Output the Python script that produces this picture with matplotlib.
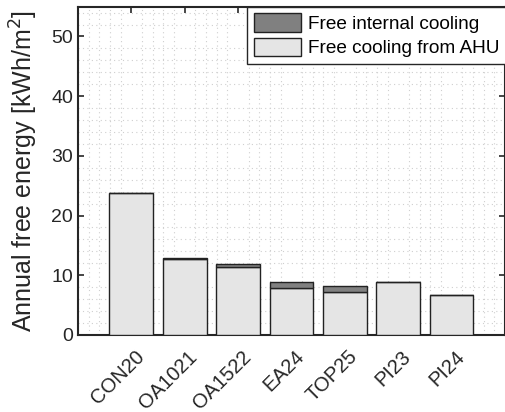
import matplotlib.pyplot as plt
import matplotlib.transforms as mtransforms
import numpy as np
from matplotlib.ticker import MultipleLocator

plt.rcParams['font.family'] = ['Liberation Sans', 'DejaVu Sans']

cases = ["CON20", "OA1021", "OA1522", "EA24", "TOP25", "PI23", "PI24"]
ahu_cooling = [23.7, 12.7, 11.4, 7.9, 7.2, 8.9, 6.7]
internal_cooling = [0.0, 0.2, 0.5, 0.9, 1.0, 0.0, 0.0]

fig = plt.figure(figsize=(5.06, 4.12), dpi=100)
ax = fig.add_axes([0.154, 0.187, 0.844, 0.797])

x = np.arange(1, len(cases) + 1)
ax.bar(x, ahu_cooling, width=0.82, color="#e5e5e5", edgecolor="#222222",
       linewidth=1.0, label="Free cooling from AHU", zorder=3)
ax.bar(x, internal_cooling, width=0.82, bottom=ahu_cooling, color="#808080",
       edgecolor="#222222", linewidth=1.0, label="Free internal cooling", zorder=3)

ax.set_xlim(0, 8)
ax.set_ylim(0, 55)
ax.set_xticks(x)
ax.set_yticks(range(0, 51, 10))
ax.tick_params(axis="y", labelsize=14)
ax.tick_params(axis="x", labelbottom=False)
ax.xaxis.set_minor_locator(MultipleLocator(0.2))
ax.yaxis.set_minor_locator(MultipleLocator(2))
ax.tick_params(which="both", direction="in", top=True, right=True, length=4, width=1.2,
               color="#262626", labelcolor="#262626")
ax.tick_params(which="minor", length=0)
ax.grid(which="minor", linestyle=(0, (1, 3)), color="#cfcfcf", linewidth=0.8, zorder=0)
for s in ax.spines.values():
    s.set_linewidth(1.5)
    s.set_color("#262626")

# rotated category labels, placed like the MATLAB original
lbl_trans = ax.get_xaxis_transform() + mtransforms.ScaledTranslation(
    3 / 100, -12 / 100, fig.dpi_scale_trans)
for xi, name in zip(x, cases):
    ax.text(xi, 0, name, transform=lbl_trans, rotation=45, ha="right", va="top",
            rotation_mode="anchor", fontsize=14.5, color="#262626", clip_on=False)

ax.set_ylabel("Annual free energy [kWh/m$^2$]", fontsize=18, color="#262626", labelpad=8)

handles, labels = ax.get_legend_handles_labels()
leg = ax.legend(handles[::-1], labels[::-1], loc="upper left", fontsize=13.7,
                bbox_to_anchor=(0.396, 1.0),
                frameon=True, fancybox=False, edgecolor="#262626", framealpha=1,
                borderaxespad=0, handlelength=2.5, handleheight=1.1,
                borderpad=0.35, labelspacing=0.25, handletextpad=0.37)
leg.get_frame().set_linewidth(1.0)

fig.savefig("out.png", dpi=100)
